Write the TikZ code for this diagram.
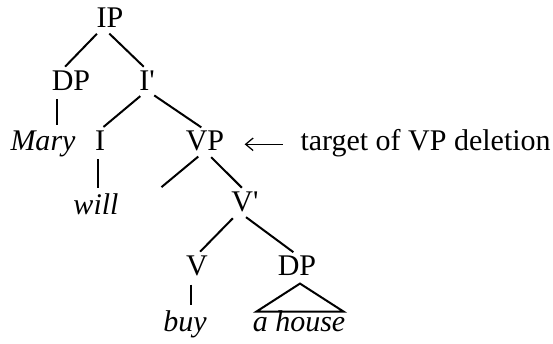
\documentclass[tikz,border=0pt]{standalone}
\usepackage{fontspec}
\setmainfont{Liberation Serif}
\usetikzlibrary{calc,arrows.meta}
\tikzset{%
  every node/.style={inner sep=0pt, anchor=base}, % labels sit on their baselines
  branch/.style={draw, line width=0.8pt, shorten <=3.5pt, shorten >=1.8pt},
  word/.style={execute at begin node=\itshape}
}
\begin{document}
\begin{tikzpicture}[x=0.4pt, y=-0.4pt, font=\fontsize{12}{14}\selectfont]
    \useasboundingbox (0,0) rectangle (553,343);

    \node (IP) at (110,27) {IP};
    \node (DP) at (71,90) {DP};
    \node (Ibar) at (147,90) {I\textquotesingle};
    \node[word] (Mary) at (43,150) {Mary};
    \node (I) at (100,150) {I};
    \node (VP) at (205,150) {VP};
    \node[anchor=base west] (target) at (300,150) {target of VP deletion};
    \node[word] (will) at (96,214) {will};
    \coordinate (spec) at (158,190);
    \node (Vbar) at (245,211) {V\textquotesingle};
    \node (V) at (197,275) {V};
    \node (DPo) at (297,275) {DP};
    \node[word] (buy) at (185,331) {buy};
    \node[word] (house) at (299,331) {a house};

    % branching nodes
    \draw[branch] ($(IP.south)+(-7,0)$) -- ($(DP.north)+(-9,0)$);
    \draw[branch] ($(IP.south)+(-7,0)$) -- (Ibar.north);
    \draw[branch] (Ibar.south) -- (I.north);
    \draw[branch] (Ibar.south) -- (VP.north);
    \draw[branch] (VP.south) -- (spec);
    \draw[branch] (VP.south) -- (Vbar.north);
    \draw[branch] ($(Vbar.south)+(-6,0)$) -- (V.north);
    \draw[branch] ($(Vbar.south)+(-6,0)$) -- (DPo.north);

    % unary branches, straight down between the two labels
    \coordinate (m1) at ($(DP.south)!.5!(Mary.north)$);
    \coordinate (m2) at ($(I.south)!.5!(will.north)$);
    \coordinate (m3) at ($(V.south)!.5!(buy.north)$);
    \draw[branch] (m1 |- DP.south) -- (m1 |- Mary.north);
    \draw[branch] (m2 |- I.south) -- (m2 |- will.north);
    \draw[branch] (m3 |- V.south) -- (m3 |- buy.north);

    % roof over the phrase
    \draw[line width=0.8pt, line join=miter]
      ($(DPo.south)+(3,8)$) -- ($(house.north west)+(4,2)$)
      -- ($(house.north east)+(-2,2)$) -- cycle;

    \draw[-{Straight Barb[length=3pt,width=5pt]}, line width=0.5pt,
      shorten <=7pt, shorten >=8pt] (target.mid west) -- (VP.mid east);
\end{tikzpicture}
\end{document}
